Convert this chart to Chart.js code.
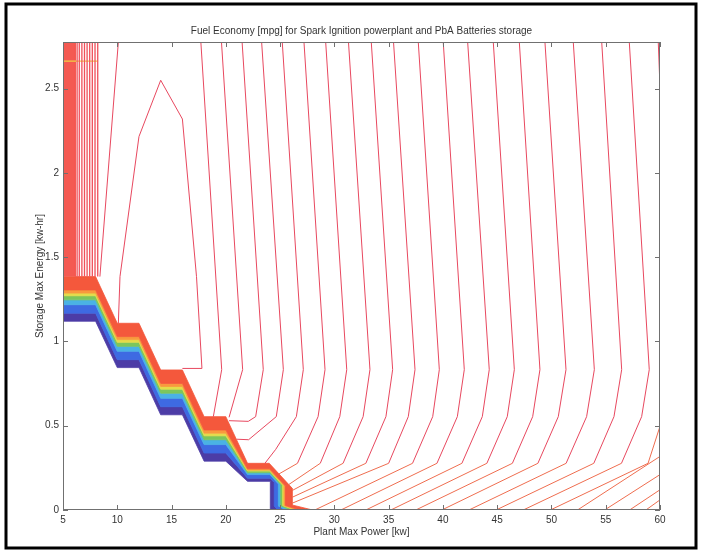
<!DOCTYPE html>
<html><head><meta charset="utf-8">
<script src="https://cdn.jsdelivr.net/npm/chart.js@4.4.1/dist/chart.umd.min.js"></script>
<style>html,body{margin:0;padding:0;background:#fff}canvas{display:block}</style>
</head><body>
<canvas id="c" width="702" height="554" style="width:702px;height:554px"></canvas>
<script>
// ---- axes / labels ----
const TITLE = 'Fuel Economy [mpg] for Spark Ignition powerplant and PbA Batteries storage';
const X_LABEL = 'Plant Max Power [kw]';
const Y_LABEL = 'Storage Max Energy [kw-hr]';
const xTicks = [5,10,15,20,25,30,35,40,45,50,55,60];
const yTicks = [0,0.5,1,1.5,2,2.5];
const X_MIN = 5, X_MAX = 60, Y_MIN = 0, Y_MAX = 2.777;

// ---- colour band (densely packed contours along the feasibility staircase) ----
const bandTop    = [[5,1.385],[8,1.385],[10,1.108],[12,1.108],[14,0.831],[16,0.831],[18,0.554],[20,0.554],[22,0.277],[24,0.277],[26.1,0.13],[26.1,0.03],[28,0]];
const bandOrange = [[5,1.306],[8,1.306],[10,1.029],[12,1.029],[14,0.751],[16,0.751],[18,0.475],[20,0.475],[22,0.245],[24.03,0.245],[25.5,0.142],[25.5,0.027],[26.83,0]];
const bandYellow = [[5,1.287],[8,1.287],[10,1.011],[12,1.011],[14,0.733],[16,0.733],[18,0.456],[20,0.456],[22,0.237],[24.04,0.237],[25.36,0.145],[25.36,0.026],[26.56,0]];
const bandGreen  = [[5,1.271],[8,1.271],[10,0.995],[12,0.995],[14,0.717],[16,0.717],[18,0.440],[20,0.440],[22,0.231],[24.04,0.231],[25.24,0.147],[25.24,0.026],[26.32,0]];
const bandCyan   = [[5,1.247],[8,1.247],[10,0.971],[12,0.971],[14,0.693],[16,0.693],[18,0.417],[20,0.417],[22,0.221],[24.05,0.221],[25.06,0.151],[25.06,0.025],[25.97,0]];
const bandBlue   = [[5,1.218],[8,1.218],[10,0.942],[12,0.942],[14,0.663],[16,0.663],[18,0.388],[20,0.388],[22,0.210],[24.06,0.210],[24.84,0.155],[24.84,0.024],[25.54,0]];
const bandIndigo = [[5,1.168],[8,1.168],[10,0.892],[12,0.892],[14,0.613],[16,0.613],[18,0.338],[20,0.338],[22,0.189],[24.08,0.189],[24.46,0.163],[24.46,0.022],[24.8,0]];
const bandBottom = [[5,1.12],[8,1.12],[10,0.845],[12,0.845],[14,0.565],[16,0.565],[18,0.29],[20,0.29],[22,0.17],[24.1,0.17],[24.1,0.17],[24.1,0.02],[24.1,0]];
const bandEdges  = [bandTop, bandOrange, bandYellow, bandGreen, bandCyan, bandBlue, bandIndigo, bandBottom];
const bandColors = ['#f4583c','#f89a3e','#e4dc4a','#7cc65c','#4ab2e4','#3e6ae2','#4c3ca6'];

// ---- dense contours at the far left (x 5..8, above the band) ----
const denseSolid = [[5,1.385],[5,2.777],[6.15,2.777],[6.15,1.385]];
const denseLineX = [6.3, 6.5, 6.74, 6.98, 7.22, 7.46, 7.7, 7.95, 8.2];
const denseTopY = 2.777, denseBottomY = 1.385;
const yellowLine = [[5,2.664],[8.2,2.664]];

// ---- individual contours ----
const contourA = [[10.1,2.777],[8.4,1.385]];
const contourB = [[10.1,1.108],[10.25,1.385],[12,2.216],[14,2.55],[16,2.32],[17.3,1.385],[17.8,0.84],[16,0.84]];
const cornerLine = [[59.84,2.777],[60,2.506]];

// vertical family: crossing of top edge, first bend (y=0.833), then lower tail
const vTopX   = [17.7,19.6,21.5,23.3,25.2,27.2,29.2,31.3,33.4,35.45,37.73,40.03,42.28,44.64,47.04,49.40,52.01,54.63,57.17];
const vBend1X = [19.62,21.55,23.45,25.3,27.14,29.14,31.14,33.28,35.37,37.43,39.67,41.97,44.27,46.58,48.94,51.34,53.95,56.47,59.01];
const BEND1_Y = 0.833;
const vTails = [
  [[18.85,0.554]],
  [[20.3,0.55]],
  [[22.75,0.554],[22.07,0.526],[20.3,0.53]],
  [[24.65,0.554],[22.1,0.417],[21.0,0.42]],
  [[26.5,0.554],[24.6,0.36],[23.6,0.277]],
  [[28.5,0.554],[26.6,0.277],[24.9,0.214]],
  [[30.5,0.554],[28.7,0.277],[25.8,0.151]],
  [[32.65,0.554],[30.8,0.277],[26.1,0.115]],
  [[34.75,0.554],[32.9,0.277],[26.1,0.075]],
  [[36.81,0.554],[35.0,0.277],[26.1,0.04]],
  [[39.06,0.554],[37.2,0.277],[28.2,0]],
  [[41.33,0.554],[39.45,0.277],[30.6,0]],
  [[43.63,0.554],[41.75,0.277],[32.9,0]],
  [[45.93,0.554],[44.05,0.277],[35.2,0]],
  [[48.27,0.554],[46.4,0.277],[37.5,0]],
  [[50.63,0.554],[48.75,0.277],[39.9,0]],
  [[53.24,0.554],[51.35,0.277],[42.4,0]],
  [[55.76,0.554],[53.9,0.277],[44.9,0]],
  [[58.31,0.554],[56.45,0.277],[47.4,0]]
];
// lines entering from the right edge near the bottom
const rightEdgeLines = [
  [[60,0.497],[58.9,0.277],[49.9,0]],
  [[60,0.318],[52.4,0]],
  [[60,0.21],[54.9,0]],
  [[60,0.12],[57.2,0]],
  [[60,0.06],[58.7,0]]
];

// ---- styles ----
const LINE_RED = '#e8485f';
const LINE_ORANGE = '#ef6d4f';
const FONT = "'Liberation Sans', Arial, Helvetica, sans-serif";

const pts = a => a.map(p => ({x:p[0], y:p[1]}));
const datasets = [];
function addLine(arr, color, width){
  datasets.push({data: pts(arr), showLine:true, borderColor: color, borderWidth: width||1,
    pointRadius:0, fill:false, tension:0,
    segment:{borderColor: ctx => {
      const d = ctx.chart.data.datasets[ctx.datasetIndex].data;
      const a = d[ctx.p0DataIndex], b = d[ctx.p1DataIndex];
      return (a.y < 0.3 && b.y < 0.3) ? LINE_ORANGE : undefined;
    }}});
}
function addPoly(arr, color){
  datasets.push({data: pts(arr), showLine:true, borderColor: color, backgroundColor: color,
    borderWidth: 0.8, pointRadius:0, fill:'shape', tension:0});
}

// contour lines
addLine(contourA, LINE_RED);
addLine(contourB, LINE_RED);
addLine(cornerLine, LINE_RED);
vTopX.forEach((x,i) => addLine([[x, Y_MAX],[vBend1X[i], BEND1_Y]].concat(vTails[i]), LINE_RED));
rightEdgeLines.forEach(l => addLine(l, LINE_ORANGE));
denseLineX.forEach(x => addLine([[x, denseTopY],[x, denseBottomY]], '#f0505a', 1.3));
addLine(yellowLine, '#f2cf45', 1.2);
addPoly(denseSolid, '#f45a52');
// colour band layers
for (let i = 0; i < bandColors.length; i++){
  addPoly(bandEdges[i].concat(bandEdges[i+1].slice().reverse()), bandColors[i]);
}

const boxPlugin = {
  id:'box',
  beforeDraw(chart){
    const c = chart.ctx; c.save(); c.fillStyle = '#fff'; c.fillRect(0,0,chart.width,chart.height); c.restore();
  },
  afterDraw(chart){
    const {ctx, chartArea:a, scales} = chart;
    const xs = scales.x, ys = scales.y;
    ctx.save();
    ctx.strokeStyle = '#707070'; ctx.lineWidth = 1;
    ctx.strokeRect(Math.round(a.left)+0.5, Math.round(a.top)+0.5, Math.round(a.right-a.left)-1, Math.round(a.bottom-a.top)-1);
    const T = 5;
    ctx.beginPath();
    xTicks.forEach(v => {
      const px = Math.round(xs.getPixelForValue(v)) + 0.5;
      ctx.moveTo(px, a.bottom); ctx.lineTo(px, a.bottom - T);
      ctx.moveTo(px, a.top); ctx.lineTo(px, a.top + T);
    });
    yTicks.forEach(v => {
      const py = Math.round(ys.getPixelForValue(v)) + 0.5;
      ctx.moveTo(a.left, py); ctx.lineTo(a.left + T, py);
      ctx.moveTo(a.right, py); ctx.lineTo(a.right - T, py);
    });
    ctx.stroke();
    ctx.strokeStyle = '#000'; ctx.lineWidth = 3;
    ctx.strokeRect(6, 4, 690, 544);
    ctx.restore();
  }
};

new Chart(document.getElementById('c'), {
  type:'scatter',
  data:{datasets},
  options:{
    responsive:false, animation:false, events:[],
    layout:{padding:{left:28, right:42, top:0, bottom:12}},
    plugins:{
      legend:{display:false}, tooltip:{enabled:false},
      title:{display:true, fullSize:false, text:TITLE, color:'#333', font:{family:FONT, size:10, weight:'normal'}, padding:{top:25, bottom:5}}
    },
    scales:{
      x:{type:'linear', min:X_MIN, max:X_MAX,
        afterBuildTicks: s => { s.ticks = xTicks.map(v => ({value:v})); },
        afterFit: s => { s.height = 32; },
        grid:{display:false, drawTicks:false}, border:{display:false},
        ticks:{color:'#333', padding:4, font:{family:FONT, size:10}, maxRotation:0, callback: v => String(v)},
        title:{display:true, text:X_LABEL, color:'#333', font:{family:FONT, size:10}, padding:{top:0, bottom:4}}
      },
      y:{type:'linear', min:Y_MIN, max:Y_MAX,
        afterBuildTicks: s => { s.ticks = yTicks.map(v => ({value:v})); },
        afterFit: s => { s.width = 35; },
        grid:{display:false, drawTicks:false}, border:{display:false},
        ticks:{color:'#333', padding:4, font:{family:FONT, size:10}, callback: v => String(v)},
        title:{display:true, text:Y_LABEL, color:'#333', font:{family:FONT, size:10}, padding:{top:6, bottom:0}}
      }
    }
  },
  plugins:[boxPlugin]
});
</script>
</body></html>
